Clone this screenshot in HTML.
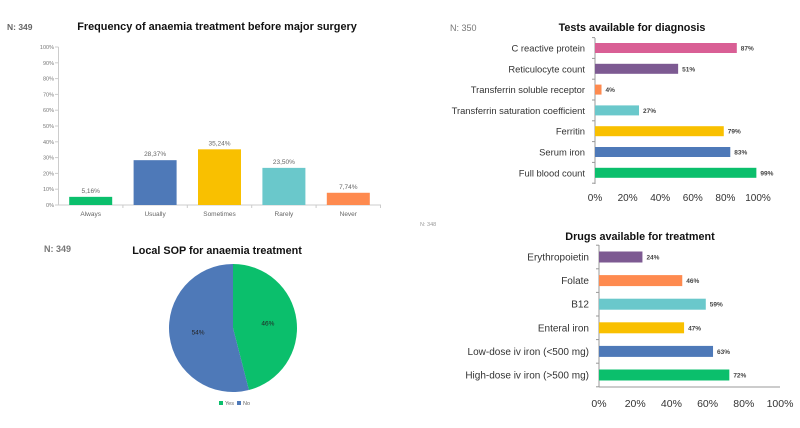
<!DOCTYPE html>
<html><head><meta charset="utf-8"><style>
body{margin:0;background:#fff;width:800px;height:423px;overflow:hidden;font-family:"Liberation Sans",sans-serif}
</style></head><body>
<svg width="800" height="423" id="svg" font-family="Liberation Sans, sans-serif"></svg>
<script>
const freqCats=["Always","Usually","Sometimes","Rarely","Never"];
const freqVals=[5.16,28.37,35.24,23.50,7.74];
const freqLabels=["5,16%","28,37%","35,24%","23,50%","7,74%"];
const freqColors=["#0bbf6c","#4e79b8","#f9c000","#6ac8cb","#fe8a4f"];
const freqTicks=[0,10,20,30,40,50,60,70,80,90,100];
const testCats=["C reactive protein","Reticulocyte count","Transferrin soluble receptor","Transferrin saturation coefficient","Ferritin","Serum iron","Full blood count"];
const testVals=[87,51,4,27,79,83,99];
const testColors=["#d95f95","#7d5a92","#fe8a4f","#6ac8cb","#f9c000","#4e79b8","#0bbf6c"];
const drugCats=["Erythropoietin","Folate","B12","Enteral iron","Low-dose iv iron (<500 mg)","High-dose iv iron (>500 mg)"];
const drugVals=[24,46,59,47,63,72];
const drugColors=["#7d5a92","#fe8a4f","#6ac8cb","#f9c000","#4e79b8","#0bbf6c"];
const hTicks=[0,20,40,60,80,100];
const pieCats=["Yes","No"];
const pieVals=[46,54];
const pieColors=["#0bbf6c","#4e79b8"];

const svg=document.getElementById('svg');const NS="http://www.w3.org/2000/svg";
function el(t,a,txt){const e=document.createElementNS(NS,t);for(const k in a)e.setAttribute(k,a[k]);if(txt!==undefined)e.textContent=txt;svg.appendChild(e);return e;}
function T(x,y,s,size,opts){return el('text',Object.assign({x:x,y:y,'font-size':size,fill:'#333'},opts||{}),s);}

// chart 1
let e;
e=T(7,30,"N: 349",8.5,{fill:'#666','font-weight':'bold'});
e=T(217,30,"Frequency of anaemia treatment before major surgery",10.9,{'text-anchor':'middle','font-weight':'bold',fill:'#111'});
const y1=v=>205-v/100*158, x0=58.5, band=64.4;
el('line',{x1:58.5,y1:47,x2:58.5,y2:205,stroke:'#ccc'});
el('line',{x1:58.5,y1:205,x2:381,y2:205,stroke:'#ccc'});
freqTicks.forEach(t=>{el('line',{x1:55,x2:58.5,y1:y1(t),y2:y1(t),stroke:'#ccc'});e=T(54,y1(t)+2,t+"%",5.5,{'text-anchor':'end',fill:'#777'});});
freqCats.forEach((c,i)=>{const cx=x0+band*(i+0.5);
e=el('rect',{x:cx-21.5,y:y1(freqVals[i]),width:43,height:205-y1(freqVals[i]),fill:freqColors[i]});
e=T(cx,y1(freqVals[i])-4,freqLabels[i],6.5,{'text-anchor':'middle',fill:'#666'});
e=T(cx,216,c,6.5,{'text-anchor':'middle',fill:'#666'});
el('line',{x1:x0+band*(i+1),x2:x0+band*(i+1),y1:205,y2:208,stroke:'#ccc'});});

// horizontal charts
function hbar(name,cats,vals,cols,ax,w,top,step,bh,lblSize,tickY,axTop,axBot,tickSize){
 const xs=v=>ax+v/100*w;
 el('line',{x1:ax,x2:ax,y1:axTop,y2:axBot,stroke:'#999'});
 for(let i=0;i<=cats.length;i++){const yy=top-step/2+step*i;el('line',{x1:ax-3,x2:ax,y1:yy,y2:yy,stroke:'#999'});}
 hTicks.forEach(t=>{e=T(xs(t),tickY,t+"%",tickSize,{'text-anchor':'middle',fill:'#333'});});
 cats.forEach((c,i)=>{const cy=top+step*i;
  e=el('rect',{x:ax,y:cy-bh/2,width:xs(vals[i])-ax,height:bh,fill:cols[i]});
  e=T(xs(vals[i])+4,cy+2.5,vals[i]+"%",6.5,{'font-weight':'bold',fill:'#444'});
  e=T(ax-10,cy+3.5,c,lblSize,{'text-anchor':'end',fill:'#333'});});
}
e=T(450,31,"N: 350",9,{fill:'#777'});
e=T(632,31,"Tests available for diagnosis",10.8,{'text-anchor':'middle','font-weight':'bold',fill:'#111'});
hbar('tests',testCats,testVals,testColors,595,163,48,20.8,10,9.4,201,38,184,10);

e=T(420,226,"N: 348",5.5,{fill:'#999'});
e=T(640,240,"Drugs available for treatment",10.8,{'text-anchor':'middle','font-weight':'bold',fill:'#111'});
hbar('drugs',drugCats,drugVals,drugColors,599,181,257,23.6,11,10,407,245,387,10.5);
el('line',{x1:599,x2:780,y1:387,y2:387,stroke:'#999'});

// pie
e=T(44,252,"N: 349",9,{fill:'#777','font-weight':'bold'});
e=T(217,254,"Local SOP for anaemia treatment",10.8,{'text-anchor':'middle','font-weight':'bold',fill:'#111'});
const cx=233,cy=328,r=64;const tot=pieVals.reduce((a,b)=>a+b,0);let a0=-Math.PI/2;
pieVals.forEach((v,i)=>{const a1=a0+v/tot*2*Math.PI;const big=(a1-a0)>Math.PI?1:0;
 e=el('path',{d:`M${cx},${cy}L${cx+r*Math.cos(a0)},${cy+r*Math.sin(a0)}A${r},${r} 0 ${big} 1 ${cx+r*Math.cos(a1)},${cy+r*Math.sin(a1)}Z`,fill:pieColors[i]});
 const am=(a0+a1)/2;e=T(cx+r*0.55*Math.cos(am),cy+r*0.55*Math.sin(am)+2,v+"%",6.5,{'text-anchor':'middle',fill:'#222'});
 a0=a1;});
pieCats.forEach((c,i)=>{const lx=219+i*18;el('rect',{x:lx,y:401,width:4,height:4,fill:pieColors[i]});e=T(lx+6,405,c,5.5,{fill:'#666'});});
</script>
</body></html>
